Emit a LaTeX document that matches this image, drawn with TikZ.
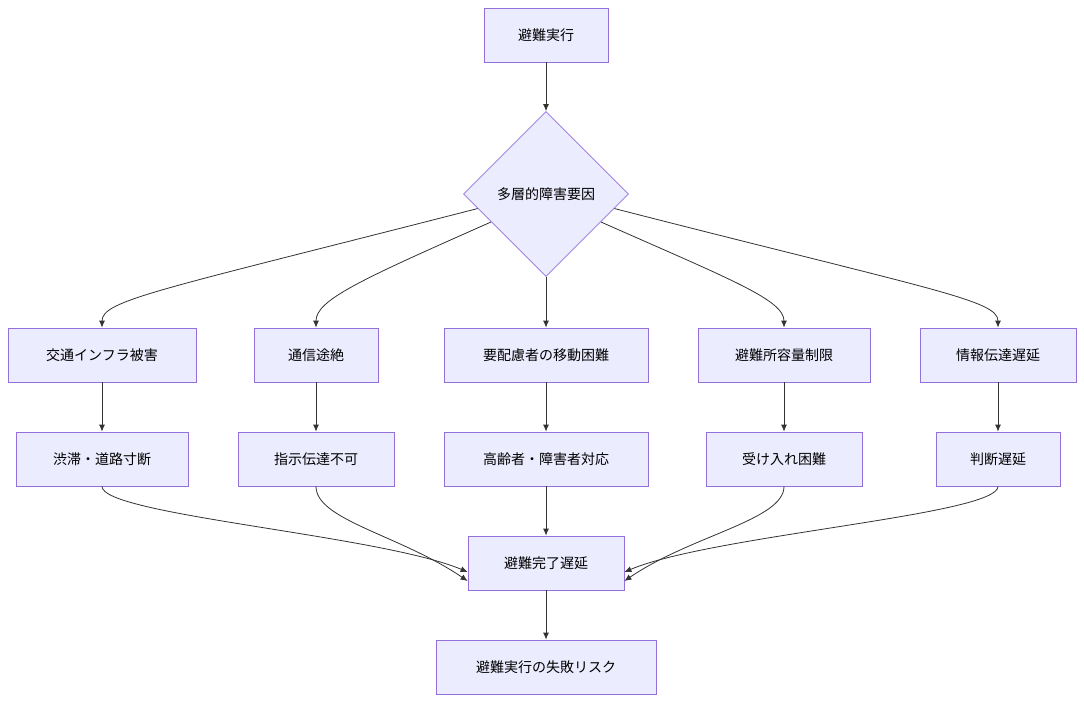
\documentclass[tikz,border=0pt]{standalone}
\usepackage{fontspec}
\setmainfont{Noto Sans CJK JP}
\usetikzlibrary{shapes.geometric}
\usetikzlibrary{arrows.meta}
\definecolor{boxfill}{HTML}{ECECFF}
\definecolor{boxline}{HTML}{9370DB}
\definecolor{arrowc}{HTML}{333333}
\begin{document}
\begin{tikzpicture}[x=1pt, y=-1pt, font=\fontsize{14}{17}\selectfont,
    box/.style={draw=boxline, fill=boxfill, line width=0.8pt, minimum height=54pt, inner sep=0pt},
    arrow/.style={-{Latex[length=7pt,width=6pt]}, draw=arrowc, line width=0.8pt}]
        \useasboundingbox (0,0) rectangle (1084,702);
        \node[box, minimum width=124pt] (start) at (546,35) {避難実行};
        \node[draw=boxline, fill=boxfill, line width=0.8pt, diamond, aspect=1, minimum size=165pt, inner sep=0pt] (dia) at (546,194) {多層的障害要因};

        \node[box, minimum width=188pt] (traffic) at (102,355) {交通インフラ被害};
        \node[box, minimum width=124pt] (comm) at (316,355) {通信途絶};
        \node[box, minimum width=204pt] (care) at (546,355) {要配慮者の移動困難};
        \node[box, minimum width=172pt] (shelter) at (784,355) {避難所容量制限};
        \node[box, minimum width=156pt] (info) at (998,355) {情報伝達遅延};

        \node[box, minimum width=172pt] (jam) at (102,459) {渋滞・道路寸断};
        \node[box, minimum width=156pt] (order) at (316,459) {指示伝達不可};
        \node[box, minimum width=204pt] (elder) at (546,459) {高齢者・障害者対応};
        \node[box, minimum width=156pt] (accept) at (784,459) {受け入れ困難};
        \node[box, minimum width=124pt] (judge) at (998,459) {判断遅延};

        \node[box, minimum width=156pt] (delay) at (546,563) {避難完了遅延};
        \node[box, minimum width=220pt] (fail) at (546,667) {避難実行の失敗リスク};

        \draw[arrow] (start) -- (dia);
        \draw[arrow] (dia.192) .. controls (160,290) and (102,300) .. (traffic.north);
        \draw[arrow] (dia.207) .. controls (360,280) and (316,300) .. (comm.north);
        \draw[arrow] (dia) -- (care);
        \draw[arrow] (dia.333) .. controls (732,280) and (784,300) .. (shelter.north);
        \draw[arrow] (dia.348) .. controls (932,290) and (998,300) .. (info.north);

        \draw[arrow] (traffic) -- (jam);
        \draw[arrow] (comm) -- (order);
        \draw[arrow] (care) -- (elder);
        \draw[arrow] (shelter) -- (accept);
        \draw[arrow] (info) -- (judge);

        \draw[arrow] (jam.south) .. controls (102,515) and (380,535) .. ([yshift=-9pt]delay.west);
        \draw[arrow] (order.south) .. controls (316,520) and (400,535) .. ([yshift=-18pt]delay.west);
        \draw[arrow] (elder) -- (delay);
        \draw[arrow] (accept.south) .. controls (784,520) and (692,535) .. ([yshift=-18pt]delay.east);
        \draw[arrow] (judge.south) .. controls (998,515) and (712,535) .. ([yshift=-9pt]delay.east);
        \draw[arrow] (delay) -- (fail);
    \end{tikzpicture}
\end{document}
